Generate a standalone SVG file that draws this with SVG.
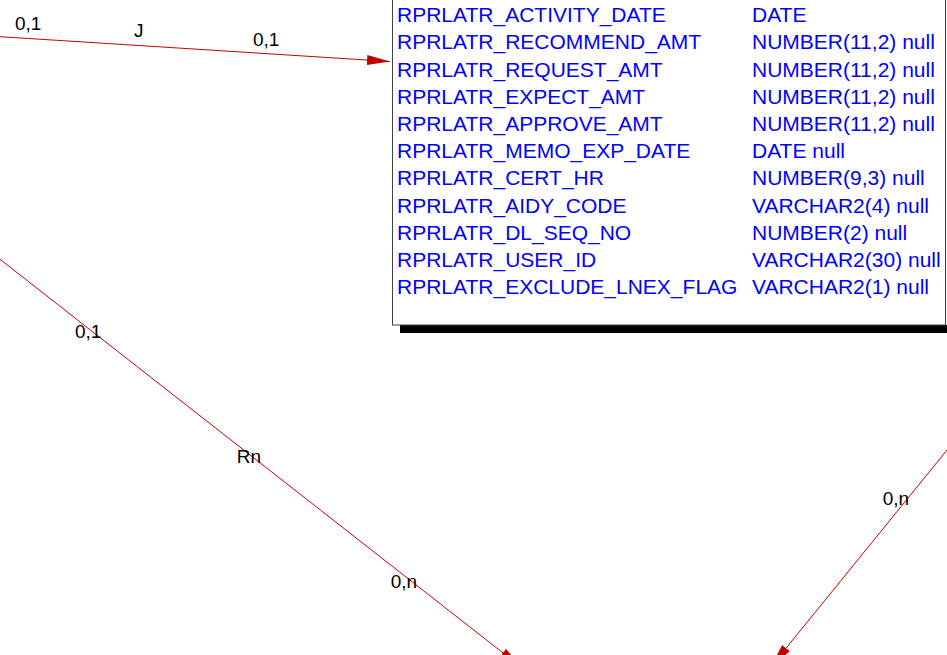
<svg xmlns="http://www.w3.org/2000/svg" width="947" height="655" viewBox="0 0 947 655">
<style>
.lbl{font-family:"Liberation Sans",Arial,sans-serif;font-size:19px;fill:#000}
.col{font-family:"Liberation Sans",Arial,sans-serif;font-size:21px;fill:#0000ff}
.conn{stroke:#cc0000;stroke-width:1;fill:none}
</style>
<defs>
<marker id="arr" viewBox="0 0 23 10" refX="23" refY="5" markerWidth="23" markerHeight="10" markerUnits="userSpaceOnUse" orient="auto">
<path d="M0,0 L23,5 L0,10 Z" fill="#c00000"/>
</marker>
</defs>
<rect width="947" height="655" fill="#fff"/>
<g id="table-rprlatr">
<rect x="400" y="325" width="560" height="8" fill="#000"/>
<rect x="392.5" y="-50" width="553" height="375" fill="#fff" stroke="#404040" stroke-width="1"/>
<text class="col" x="397" y="22.2">RPRLATR_ACTIVITY_DATE</text>
<text class="col" x="397" y="49.4">RPRLATR_RECOMMEND_AMT</text>
<text class="col" x="397" y="76.6">RPRLATR_REQUEST_AMT</text>
<text class="col" x="397" y="103.8">RPRLATR_EXPECT_AMT</text>
<text class="col" x="397" y="131">RPRLATR_APPROVE_AMT</text>
<text class="col" x="397" y="158.2">RPRLATR_MEMO_EXP_DATE</text>
<text class="col" x="397" y="185.4">RPRLATR_CERT_HR</text>
<text class="col" x="397" y="212.6">RPRLATR_AIDY_CODE</text>
<text class="col" x="397" y="239.8">RPRLATR_DL_SEQ_NO</text>
<text class="col" x="397" y="267">RPRLATR_USER_ID</text>
<text class="col" x="397" y="294.2">RPRLATR_EXCLUDE_LNEX_FLAG</text>
<text class="col" x="752" y="22.2">DATE</text>
<text class="col" x="752" y="49.4">NUMBER(11,2) null</text>
<text class="col" x="752" y="76.6">NUMBER(11,2) null</text>
<text class="col" x="752" y="103.8">NUMBER(11,2) null</text>
<text class="col" x="752" y="131">NUMBER(11,2) null</text>
<text class="col" x="752" y="158.2">DATE null</text>
<text class="col" x="752" y="185.4">NUMBER(9,3) null</text>
<text class="col" x="752" y="212.6">VARCHAR2(4) null</text>
<text class="col" x="752" y="239.8">NUMBER(2) null</text>
<text class="col" x="752" y="267">VARCHAR2(30) null</text>
<text class="col" x="752" y="294.2">VARCHAR2(1) null</text>
</g>
<g id="connectors">
<line class="conn" x1="0" y1="36.7" x2="390" y2="61.5" marker-end="url(#arr)"/>
<line class="conn" x1="0" y1="259.3" x2="521" y2="667" marker-end="url(#arr)"/>
<line class="conn" x1="947" y1="450" x2="771.5" y2="666" marker-end="url(#arr)"/>
<text class="lbl" x="15" y="30">0,1</text>
<text class="lbl" x="134" y="37">J</text>
<text class="lbl" x="253" y="45.7">0,1</text>
<text class="lbl" x="75" y="338.3">0,1</text>
<text class="lbl" x="236.7" y="462.7">Rn</text>
<text class="lbl" x="390.7" y="588.3">0,n</text>
<text class="lbl" x="882.7" y="505">0,n</text>
</g>
</svg>
